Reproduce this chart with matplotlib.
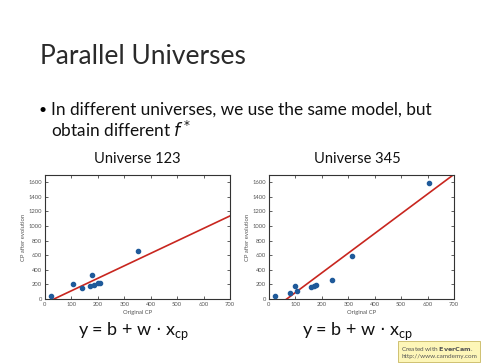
import matplotlib
matplotlib.use('Agg')
import matplotlib.pyplot as plt
import numpy as np

# Universe 123 data
x123 = [23, 107, 141, 177, 170, 187, 199, 208, 353]
y123 = [46, 203, 152, 332, 180, 194, 217, 226, 664]
b123, w123 = -58, 1.71

# Universe 345 data
x345 = [24, 79, 97, 105, 158, 170, 179, 240, 315, 604]
y345 = [46, 83, 180, 115, 171, 180, 194, 263, 595, 1595]
b345, w345 = -181, 2.70

titles = ['Universe 123', 'Universe 345']
xticks = list(range(0, 701, 100))
yticks = list(range(0, 1601, 200))

plt.rcParams['font.family'] = ['Lato', 'DejaVu Sans']

fig = plt.figure(figsize=(4.84, 3.64), dpi=100)
fig.patch.set_facecolor('white')

fig.text(40 / 484, 1 - 56 / 364, 'Parallel Universes', fontsize=19,
         fontweight='normal', va='center', ha='left', color='#2a2a2a')
fig.text(39 / 484, 1 - 110 / 364, '\u2022', fontsize=10, va='center', ha='left')
fig.text(51 / 484, 1 - 110 / 364, 'In different universes, we use the same model, but',
         fontsize=12.4, va='center', ha='left', color='#111111')
fig.text(51 / 484, 1 - 130 / 364, 'obtain different $f^*$',
         fontsize=12.4, va='center', ha='left', color='#111111')

lefts = [45 / 484, 269 / 484]
centers = [137, 357]
eq_centers = [134, 358]
data = [(x123, y123, b123, w123), (x345, y345, b345, w345)]

for left, cx, ex, title, (xs, ys, b, w) in zip(lefts, centers, eq_centers, titles, data):
    ax = fig.add_axes([left, 65 / 364, 185 / 484, 124 / 364])
    ax.scatter(xs, ys, s=9, color='#1f5a9a', zorder=3)
    xl = np.linspace(0, 700, 200)
    ax.plot(xl, b + w * xl, color='#c8261f', lw=1.2)
    ax.set_xlim(0, 700)
    ax.set_ylim(0, 1700)
    ax.set_xticks(xticks)
    ax.set_yticks(yticks)
    ax.tick_params(direction='in', top=True, right=True, length=2.5, width=0.6,
                   labelsize=4.2, labelcolor='#555555', color='#444444', pad=2)
    for sp in ax.spines.values():
        sp.set_linewidth(0.8)
        sp.set_color('#333333')
    ax.set_xlabel('Original CP', fontsize=4.2, color='#555555', labelpad=2)
    ax.set_ylabel('CP after evolution', fontsize=4.2, color='#555555', labelpad=2)
    fig.text(cx / 484, 1 - 159 / 364, title, fontsize=10.5, ha='center', va='center',
             color='#111111')
    fig.text(ex / 484, 1 - 331 / 364, r'y = b + w $\cdot$ x$_{\mathregular{cp}}$',
             fontsize=13, ha='center', va='center', color='#111111')

fig.text(401 / 484, 1 - 352 / 364, 'Created with $\\bf{EverCam}$.\nhttp://www.camdemy.com',
         fontsize=4.6, ha='left', va='center', color='#555555', linespacing=1.3,
         bbox=dict(boxstyle='square,pad=0.5', fc='#fdf6b8', ec='#c8b860', lw=0.6))

fig.savefig('out.png', dpi=100)
